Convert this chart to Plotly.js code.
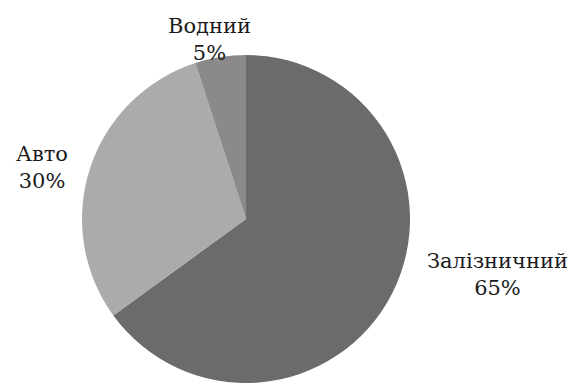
<!DOCTYPE html>
<html>
<head>
<meta charset="utf-8">
<script src="https://cdn.plot.ly/plotly-3.0.1.min.js"></script>
<style>html,body{margin:0;padding:0;background:#fff;}</style>
</head>
<body>
<div id="chart" style="width:570px;height:383px;"></div>
<script>
const categories = ["Залізничний", "Авто", "Водний"];
const values = [65, 30, 5];
const colors = ["#6b6b6b", "#ababab", "#8a8a8a"];

// label placement (paper coordinates), one per category
const labelX = [0.872, 0.074, 0.367];
const labelY = [0.284, 0.563, 0.898];

const total = values.reduce((a, b) => a + b, 0);
const annotations = categories.map((c, i) => ({
  text: c + "<br>" + Math.round(values[i] / total * 100) + "%",
  x: labelX[i], y: labelY[i], xref: "paper", yref: "paper",
  xanchor: "center", yanchor: "middle", showarrow: false,
  font: {family: "DejaVu Serif", size: 21, color: "#1a1a1a"}
}));

Plotly.newPlot("chart", [{
  type: "pie",
  labels: categories,
  values: values,
  sort: false,
  direction: "clockwise",
  rotation: 0,
  textinfo: "none",
  hoverinfo: "none",
  marker: {colors: colors, line: {width: 0}},
  domain: {x: [0.1439, 0.7193], y: [0, 0.8564]}
}], {
  width: 570, height: 383,
  margin: {l: 0, r: 0, t: 0, b: 0},
  showlegend: false,
  paper_bgcolor: "#fff",
  annotations: annotations
}, {staticPlot: true});
</script>
</body>
</html>
